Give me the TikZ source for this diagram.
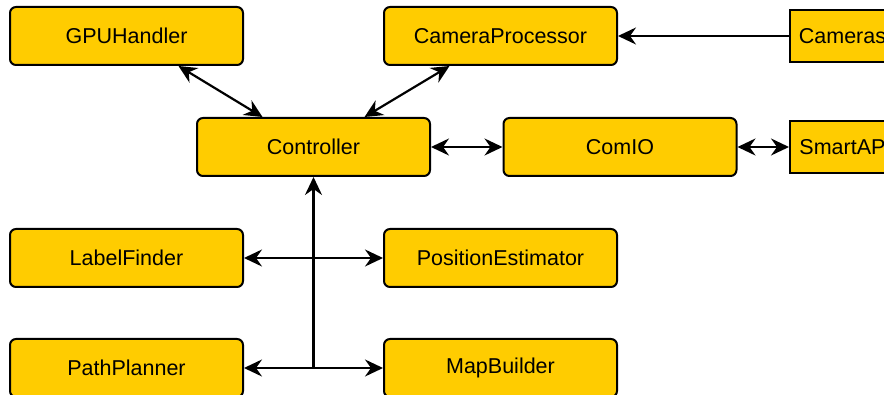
\documentclass[tikz,border=0pt]{standalone}
\usepackage{fontspec}
\setmainfont{Liberation Sans}
\usetikzlibrary{arrows.meta,calc}
\definecolor{boxyellow}{HTML}{FFCC00}
\tikzset{
  module/.style={draw=black, fill=boxyellow, line width=2pt, rounded corners=6pt,
    minimum width=233pt, minimum height=58pt, inner sep=0pt, font=\fontsize{21.5}{25}\selectfont},
  extmodule/.style={draw=black, fill=boxyellow, line width=2pt,
    minimum width=105pt, minimum height=52pt, inner sep=0pt, font=\fontsize{21.5}{25}\selectfont},
  link/.style={line width=2.2pt, draw=black,
    >={Stealth[length=18pt,width=17pt,inset=6pt]}},
}
\begin{document}
\begin{tikzpicture}[x=1pt,y=-1pt]
\useasboundingbox (0,0) rectangle (884,395);
\clip (0,0) rectangle (884,395);
% modules
\node[module] (gpu) at (126.5,36) {GPUHandler};
\node[module] (cp)  at (500.5,36) {CameraProcessor};
\node[extmodule] (cam) at (842.5,36) {Cameras};
\node[module] (ctrl) at (313.5,147) {Controller};
\node[module] (com)  at (620,147) {ComIO};
\node[extmodule] (ap) at (842.5,147) {SmartAP};
\node[module] (lf) at (126.5,258) {LabelFinder};
\node[module] (pe) at (500.5,258) {PositionEstimator};
\node[module] (pp) at (126.5,368) {PathPlanner};
\node[module] (mb) at (500.5,368) {MapBuilder};
% bus junction below the controller
\coordinate (busbot) at (ctrl.south |- pp.east);
% connectors
\draw[link,<->] ($(gpu.south)+(52,0)$) -- ($(ctrl.north)+(-51,0)$);
\draw[link,<->] ($(cp.south)+(-51,0)$) -- ($(ctrl.north)+(51,0)$);
\draw[link,->] (cam.west) -- (cp.east);
\draw[link,<->] (ctrl.east) -- (com.west);
\draw[link,<->] (com.east) -- (ap.west);
\draw[link,<-] (ctrl.south) -- (busbot);
\draw[link,<->] (lf.east) -- (pe.west);
\draw[link,<->] (pp.east) -- (mb.west);
\end{tikzpicture}
\end{document}
